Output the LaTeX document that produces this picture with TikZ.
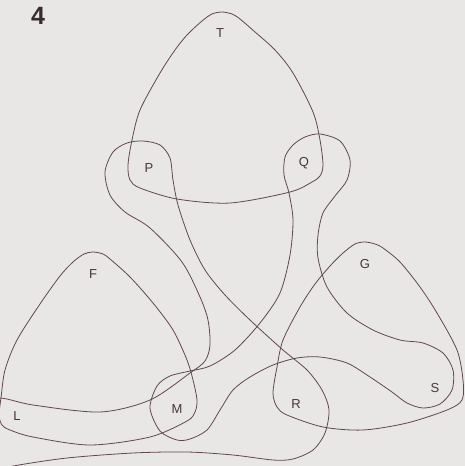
\documentclass[tikz,border=0pt]{standalone}
\usepackage{fontspec}
\setmainfont{Liberation Sans}
\definecolor{paper}{RGB}{233,230,230}
\definecolor{ink}{RGB}{95,72,82}
\usepackage{tikz}

\begin{document}
\begin{tikzpicture}[x=1pt,y=-1pt,
  lobe/.style={draw=ink,line width=0.8pt},
  lbl/.style={text=ink!75!black,font=\fontsize{13}{13}\selectfont,inner sep=0pt}
]
  \fill[paper] (0,0) rectangle (465,466);
  \useasboundingbox (0,0) rectangle (465,466);
  \clip (0,0) rectangle (465,466);

  % T -- P -- Q
  \draw[lobe] plot[smooth cycle] coordinates {(222,12) (232,14) (240,19) (255,32) (275,50)
    (293,73) (313,112) (320,140) (323,165) (320,176) (312,182) (290,192) (230,203) (177,199)
    (140,188) (130,180) (128,165) (132,140) (140,110) (160,73) (175,50) (187,35) (202,21) (212,14)};
  % F -- L -- M
  \draw[lobe] plot[smooth cycle] coordinates {(93,252) (103,254) (110,259) (130,277) (153,303)
    (173,330) (187,360) (193,380) (197,400) (195,412) (187,421) (150,437) (90,445) (33,437)
    (10,430) (2,425) (-1,415) (1,398) (5,370) (17,340) (40,304) (60,276) (73,262) (84,254)};
  % G -- R -- S
  \draw[lobe] plot[smooth cycle] coordinates {(365,242) (375,244) (383,248) (400,262) (420,287)
    (437,313) (457,350) (463,380) (462,400) (447,410) (407,423) (363,430) (323,427) (287,415)
    (277,407) (273,393) (277,367) (283,340) (300,307) (315,284) (330,266) (343,253) (355,244)};
  % P -- R -- L
  \draw[lobe] plot[smooth cycle] coordinates {(143,141) (160,145) (170,158) (173,180) (178,205)
    (190,240) (205,270) (225,295) (250,320) (283,350) (307,370) (322,390) (329,410) (325,433)
    (313,450) (293,459) (273,460) (233,455) (187,452) (133,453) (67,458) (13,466) (-25,474)
    (-55,450) (-30,402) (0,398) (33,405) (100,412) (150,400) (190,373) (205,361) (210,345)
    (208,320) (200,297) (182,262) (150,228) (125,212) (110,195) (105,172) (113,152) (127,143)};
  % Q -- S -- M
  \draw[lobe] plot[smooth cycle] coordinates {(320,134) (340,141) (350,160) (347,180) (335,196)
    (323,213) (318,235) (318,258) (327,287) (347,313) (373,330) (400,340) (423,343) (443,353)
    (453,370) (452,390) (440,404) (423,408) (407,403) (392,392) (370,377) (347,363) (320,357)
    (297,358) (273,365) (250,377) (233,390) (220,410) (207,430) (190,439) (177,440) (160,431)
    (150,408) (157,386) (170,376) (190,371) (210,366) (235,350) (260,323) (280,293) (290,255)
    (293,220) (289,193) (284,175) (285,157) (293,145) (305,137)};

  \node[lbl] (t) at (220,33) {T};
  \node[lbl] (p) at (149,168) {P};
  \node[lbl] (q) at (304,163) {Q};
  \node[lbl] (f) at (93,274) {F};
  \node[lbl] (g) at (365,264) {G};
  \node[lbl] (l) at (17,416) {L};
  \node[lbl] (m) at (177,409) {M};
  \node[lbl] (r) at (296,404) {R};
  \node[lbl] (s) at (435,388) {S};
  \node[text=ink!60!black,font=\fontsize{25}{25}\selectfont\bfseries,inner sep=0pt] (num) at (38,16) {4};
\end{tikzpicture}
\end{document}
